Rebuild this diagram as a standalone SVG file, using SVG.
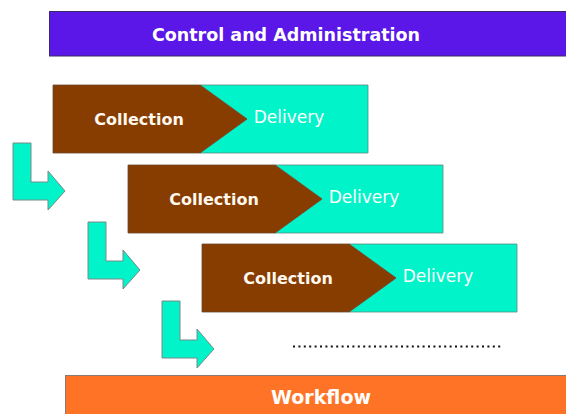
<svg xmlns="http://www.w3.org/2000/svg" width="566" height="414" viewBox="0 0 566 414">
  <style>
    .bar-purple { fill: #5a17e8; stroke: #3a2a6a; stroke-width: 1; }
    .bar-orange { fill: #ff7326; stroke: #8a7a70; stroke-width: 1; }
    .collect { fill: #873c00; stroke: #6a4a30; stroke-width: 0.8; }
    .deliver { fill: #00f3c9; stroke: #5a8a80; stroke-width: 0.8; }
    .step { fill: #00f3c9; stroke: #7a8a88; stroke-width: 1; }
    .title { font-family: "DejaVu Sans", Verdana, sans-serif; font-weight: bold; fill: #ffffff; font-size: 17.5px; text-anchor: middle; }
    .wf { font-size: 19px; }
    .lbl-c { font-family: "DejaVu Sans", Verdana, sans-serif; font-weight: bold; fill: #fff8ee; font-size: 16px; text-anchor: middle; }
    .lbl-d { font-family: "DejaVu Sans", Verdana, sans-serif; fill: #ffffff; font-size: 17px; text-anchor: middle; }
  </style>
  <defs>
    <!-- one collection/delivery stage, origin at its top-left corner -->
    <g id="stage">
      <polygon class="deliver" points="147,0 315,0 315,68 147,68 194,34"/>
      <polygon class="collect" points="0,0 147,0 194,34 147,68 0,68"/>
      <text class="lbl-c" x="86" y="40">Collection</text>
      <text class="lbl-d" x="236" y="38">Delivery</text>
    </g>
    <!-- bent hand-off arrow, origin at top-left of its vertical leg -->
    <polygon id="handoff" class="step" points="0,0 18,0 18,39 35,39 35,28 52,48 35,67 35,57 0,57"/>
  </defs>

  <g id="control">
    <rect class="bar-purple" x="49.5" y="11.5" width="530" height="44.5"/>
    <text class="title" x="286" y="41">Control and Administration</text>
  </g>

  <g id="stage1"><use href="#stage" x="53" y="85"/></g>
  <g id="stage2"><use href="#stage" x="128" y="165"/></g>
  <g id="stage3"><use href="#stage" x="202" y="244"/></g>

  <g id="connectors">
    <use href="#handoff" x="13" y="143"/>
    <use href="#handoff" x="88" y="222"/>
    <use href="#handoff" x="162" y="301"/>
    <line x1="293" y1="346.5" x2="502" y2="346.5" stroke="#111" stroke-width="2" stroke-dasharray="2 3.4"/>
  </g>

  <g id="workflow">
    <rect class="bar-orange" x="65.5" y="375.5" width="520" height="50"/>
    <text class="title wf" x="321" y="404">Workflow</text>
  </g>
</svg>
